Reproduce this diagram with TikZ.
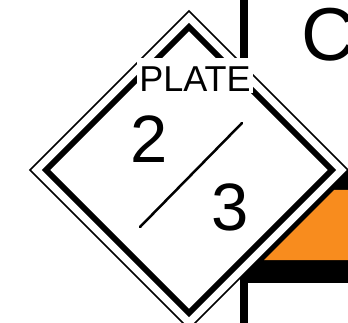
\documentclass[tikz,border=0pt]{standalone}
\usepackage{fontspec}
\setmainfont{Liberation Sans}
\usetikzlibrary{positioning}
\definecolor{panelorange}{RGB}{248,140,30}

\begin{document}
\begin{tikzpicture}[
      x=1pt, y=-1pt,
      rim/.style={draw=black, line width=1.5pt, fill=white},
      band/.style={draw=black, line width=6pt},
      digit/.style={inner sep=0pt, anchor=base, font=\fontsize{67}{67}\selectfont},
      label/.style={fill=white, inner sep=0pt, inner xsep=2pt, text height=34pt,
          text depth=1pt, anchor=base, font=\fontsize{36}{36}\selectfont},
    ]
    \fill[white] (0,0) rectangle (348,323);
    \useasboundingbox (0,0) rectangle (348,323);

    % Background: post, black box and orange panel
    \draw[line width=7.5pt] (244,0) -- (244,323);
    \fill[black] (240,170) rectangle (348,283);
    \fill[panelorange] (264,260) -- (334,190) -- (348,190) -- (348,260) -- cycle;

    % Diamond plate
    \draw[rim] (189,11) -- (348,170) -- (189,329) -- (30,170) -- cycle;
    \draw[band] (189,27) -- (332,170) -- (189,313) -- (46,170) -- cycle;

    % Fraction
    \coordinate (s1) at (140,227);
    \coordinate (s2) at (242,123);
    \draw[line width=2.5pt, line cap=round] (s1) -- (s2);
    \node[digit] (num2) at (149,163) {2};
    \node[digit] (num3) at (230.5,230) {3};

    % Title
    \node[label] (plate) at (195,92) {PLATE};
    \node[inner sep=0pt, anchor=base west, font=\fontsize{75}{75}\selectfont] (letterC) at (301,61) {C};
  \end{tikzpicture}
\end{document}
